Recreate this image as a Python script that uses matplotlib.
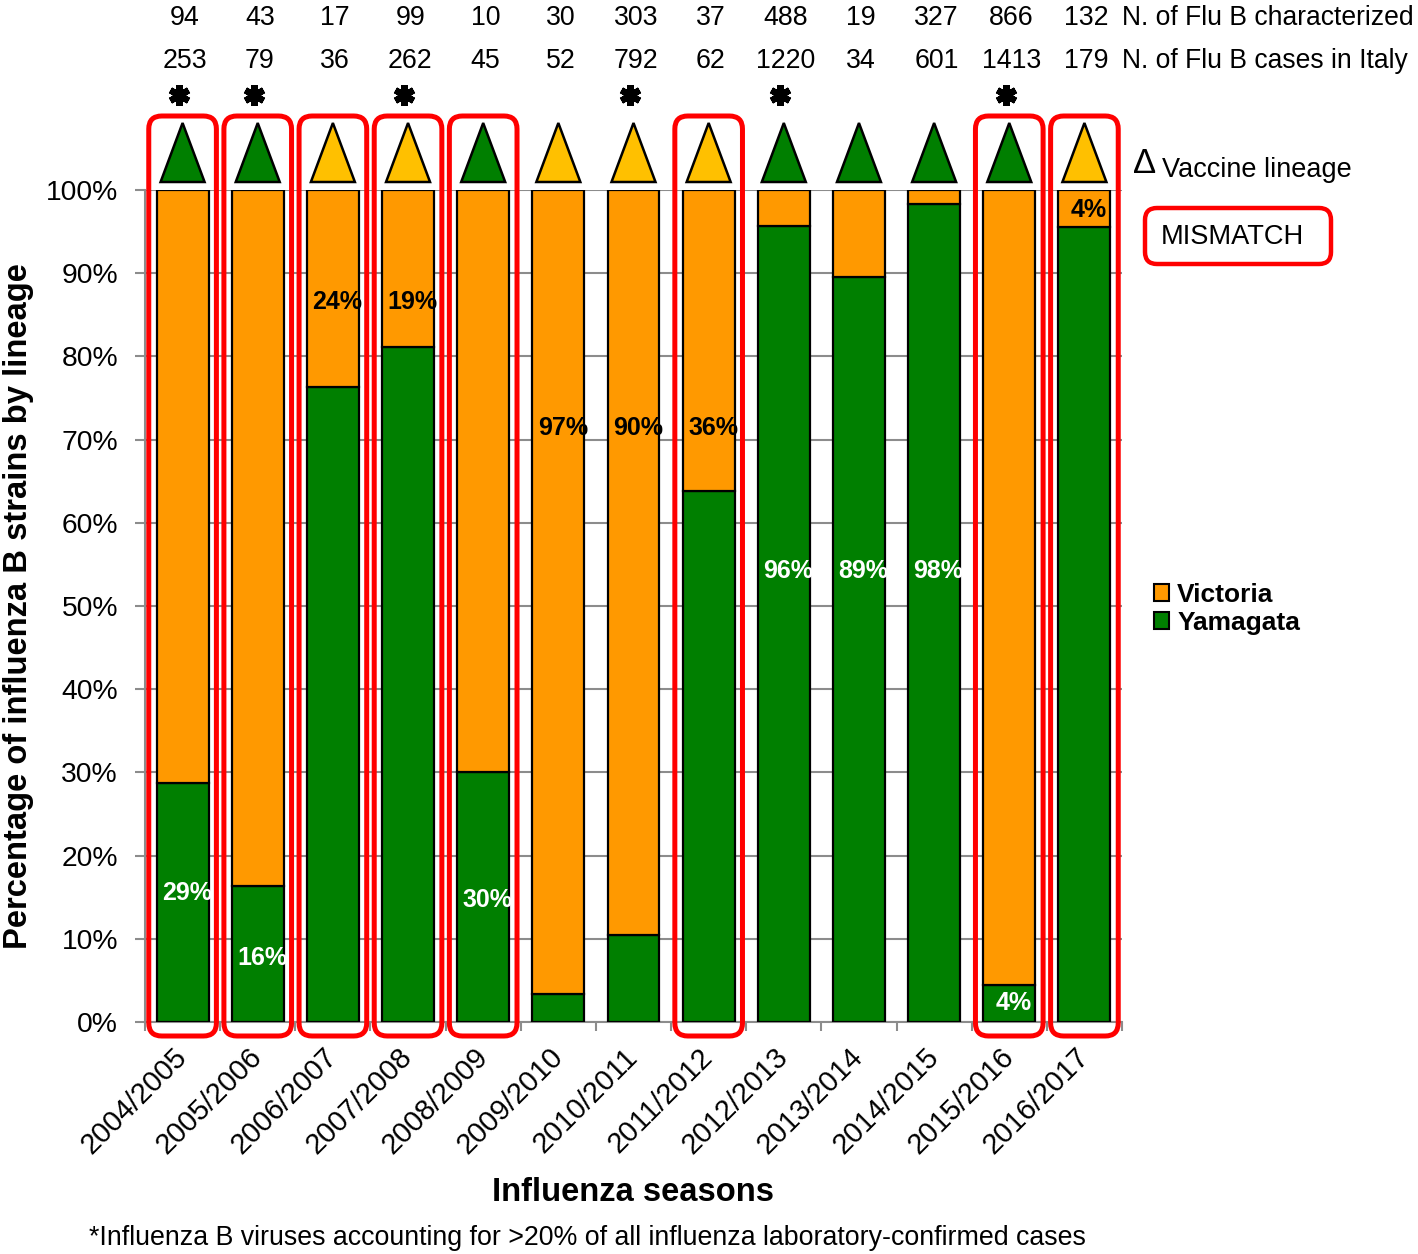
import matplotlib
matplotlib.use("Agg")
import matplotlib.pyplot as plt
from matplotlib.patches import FancyBboxPatch, Polygon, Patch
from matplotlib.transforms import blended_transform_factory
import numpy as np

# ---------------- data ----------------
seasons = ["2004/2005", "2005/2006", "2006/2007", "2007/2008", "2008/2009",
           "2009/2010", "2010/2011", "2011/2012", "2012/2013", "2013/2014",
           "2014/2015", "2015/2016", "2016/2017"]
yamagata = [28.7, 16.3, 76.3, 81.1, 30.0, 3.4, 10.5, 63.8, 95.7, 89.5, 98.3, 4.4, 95.5]
victoria = [71.3, 83.7, 23.7, 18.9, 70.0, 96.6, 89.5, 36.2, 4.3, 10.5, 1.7, 95.6, 4.5]
n_characterized = [94, 43, 17, 99, 10, 30, 303, 37, 488, 19, 327, 866, 132]
n_cases_italy = [253, 79, 36, 262, 45, 52, 792, 62, 1220, 34, 601, 1413, 179]
vaccine_lineage = ["Y", "Y", "V", "V", "Y", "V", "V", "V", "Y", "Y", "Y", "Y", "V"]
mismatch = [1, 1, 1, 1, 1, 0, 0, 1, 0, 0, 0, 1, 1]
flu_b_over_20 = [1, 1, 0, 1, 0, 0, 1, 0, 1, 0, 0, 1, 0]
label_text = ["29%", "16%", "24%", "19%", "30%", "97%", "90%", "36%",
              "96%", "89%", "98%", "4%", "4%"]
label_series = ["Y", "Y", "V", "V", "Y", "V", "V", "V", "Y", "Y", "Y", "Y", "V"]
label_level = [15.5, 7.7, 86.5, 86.5, 14.7, 71.4, 71.4, 71.4, 54.2, 54.2, 54.2, 2.3, 97.6]

# ---------------- style ----------------
ORANGE = "#FF9900"
GREEN = "#007F00"
YELLOW = "#FFC000"
RED = "#FF0000"
GRAY = "#8C8C8C"
FONT = ["Liberation Sans", "DejaVu Sans"]
plt.rcParams["font.family"] = FONT

W, H = 1418, 1254
fig = plt.figure(figsize=(W / 100, H / 100), dpi=100)
ax_l, ax_r, ax_t, ax_b = 145, 1122, 190, 1022
ax = fig.add_axes([ax_l / W, 1 - ax_b / H, (ax_r - ax_l) / W, (ax_b - ax_t) / H])

x = np.arange(len(seasons))
bw = 0.69
ax.bar(x, yamagata, width=bw, color=GREEN, edgecolor="black", linewidth=1.6, zorder=3)
ax.bar(x, victoria, bottom=yamagata, width=bw, color=ORANGE, edgecolor="black",
       linewidth=1.6, zorder=3)

ax.set_xlim(-0.5, len(seasons) - 0.5)
ax.set_ylim(0, 100)
ax.set_yticks(np.arange(0, 101, 10))
ax.set_yticklabels([f"{v}%" for v in range(0, 101, 10)], fontsize=20.3)
ax.yaxis.grid(True, color=GRAY, linewidth=1.5, zorder=0)
ax.set_axisbelow(True)
for s in ["top", "right"]:
    ax.spines[s].set_visible(False)
for s in ["left", "bottom"]:
    ax.spines[s].set_color(GRAY)
    ax.spines[s].set_linewidth(1.5)
ax.tick_params(axis="y", direction="out", length=7.5, width=1.5, color=GRAY, pad=12)

ax.set_xticks(x)
ax.set_xticklabels(seasons, fontsize=20.8, rotation=45, ha="right", va="center",
                   rotation_mode="anchor")
ax.set_xticks(np.arange(-0.5, len(seasons), 1.0), minor=True)
ax.tick_params(axis="x", which="major", length=0, pad=22)
ax.tick_params(axis="x", which="minor", direction="out", length=6.5, width=1.5, color=GRAY)

ax.set_xlabel("Influenza seasons", fontsize=23.6, fontweight="bold")
ax.xaxis.set_label_coords(0.5, (ax_b - 1177) / (ax_b - ax_t))
ax.set_ylabel("Percentage of influenza B strains by lineage", fontsize=23.6, fontweight="bold")
ax.yaxis.set_label_coords((34.5 - ax_l) / (ax_r - ax_l), 0.5)

# percentage labels
for xi, txt, ser, lev in zip(x, label_text, label_series, label_level):
    ax.text(xi + 0.06, lev, txt, ha="center", va="center", fontsize=18,
            fontweight="bold", color="white" if ser == "Y" else "black", zorder=6)

# pixel scale for data units
p0 = ax.transData.transform((0, 0))
p1 = ax.transData.transform((1, 1))
px_x = p1[0] - p0[0]
px_y = p1[1] - p0[1]
aspect = px_x / px_y

# vaccine lineage triangles
tri_half = 22 / px_x
tri_base = 100 + 8 / px_y
tri_apex = 100 + 67 / px_y
for xi, lin in zip(x, vaccine_lineage):
    tri = Polygon([(xi - tri_half, tri_base), (xi + tri_half, tri_base), (xi, tri_apex)],
                  closed=True, facecolor=GREEN if lin == "Y" else YELLOW,
                  edgecolor="black", linewidth=1.8, joinstyle="miter", clip_on=False, zorder=4)
    ax.add_patch(tri)

# mismatch boxes
box_half = 0.45
box_bot = -14 / px_y
box_top = 100 + 74 / px_y
for xi, m in zip(x, mismatch):
    if m:
        bx = FancyBboxPatch((xi - box_half, box_bot), 2 * box_half, box_top - box_bot,
                            boxstyle=f"round,pad=0,rounding_size={13 / px_x}",
                            mutation_aspect=aspect, facecolor="none", edgecolor=RED,
                            linewidth=3.6, clip_on=False, zorder=5)
        ax.add_patch(bx)

# stars
star_x = [xi - 0.05 for xi, s in zip(x, flu_b_over_20) if s]
star_y = [100 + (ax_t - 95) / px_y for s in flu_b_over_20 if s]
ax.plot(star_x, star_y, linestyle="none", marker=(6, 2, 0), markersize=15,
        markeredgewidth=4.6, color="black", clip_on=False, zorder=6)

# counts rows
trans = blended_transform_factory(ax.transData, fig.transFigure)
for xi, a, b in zip(x, n_characterized, n_cases_italy):
    ax.text(xi + 0.03, 1 - 25 / H, str(a), transform=trans, ha="center", va="baseline", fontsize=19.3)
    ax.text(xi + 0.03, 1 - 68 / H, str(b), transform=trans, ha="center", va="baseline", fontsize=19.3)
fig.text(1122 / W, 1 - 25 / H, "N. of Flu B characterized", fontsize=19.1, va="baseline")
fig.text(1122 / W, 1 - 68 / H, "N. of Flu B cases in Italy", fontsize=19.1, va="baseline")

# vaccine lineage key
fig.text(1133 / W, 1 - 173 / H, "\u0394", fontsize=25, va="baseline")
fig.text(1162 / W, 1 - 177 / H, "Vaccine lineage", fontsize=19.5, va="baseline")

# mismatch key
fa = W / H
mm = FancyBboxPatch((1145 / W, 1 - 264 / H), (1331 - 1145) / W, 56 / H,
                    boxstyle=f"round,pad=0,rounding_size={12 / W}", mutation_aspect=fa,
                    transform=fig.transFigure, facecolor="none", edgecolor=RED, linewidth=3.2)
fig.add_artist(mm)
fig.text(1161 / W, 1 - 237 / H, "MISMATCH", fontsize=19.6, va="center")

# legend
handles = [Patch(facecolor=ORANGE, edgecolor="black", linewidth=1.5, label="Victoria"),
           Patch(facecolor=GREEN, edgecolor="black", linewidth=1.5, label="Yamagata")]
fig.legend(handles=handles, loc="upper left", bbox_to_anchor=(1154 / W, 1 - 583 / H),
           frameon=False, prop={"size": 19, "weight": "bold"}, handlelength=0.58,
           handleheight=0.58, handletextpad=0.3, labelspacing=0.15, borderpad=0,
           borderaxespad=0)

# footnote
fig.text(587.5 / W, 1 - 1245 / H,
         "*Influenza B viruses accounting for >20% of all influenza laboratory-confirmed cases",
         fontsize=19.3, ha="center", va="baseline")

fig.savefig("out.png", dpi=100, facecolor="white")
